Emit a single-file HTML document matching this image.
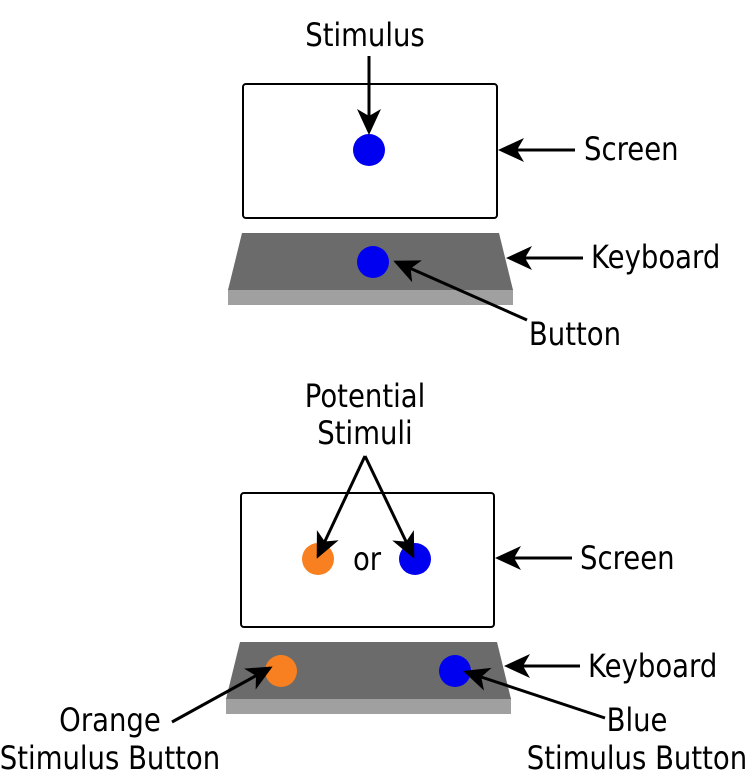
<!DOCTYPE html>
<html><head><style>body{margin:0;background:#fff}svg{display:block}text{font-family:"DejaVu Sans","Liberation Sans",sans-serif;font-size:32px;fill:#000}</style></head>
<body>
<svg width="753" height="779" viewBox="0 0 753 779" xmlns="http://www.w3.org/2000/svg">
<defs>
<marker id="b" markerWidth="26" markerHeight="26" refX="23" refY="13" orient="auto" markerUnits="userSpaceOnUse" viewBox="0 0 26 26"><path d="M0,1 L26,13 L0,25 L7,13 Z" fill="#000"/></marker></defs>
<g stroke="#000" stroke-width="2" fill="none">
<rect x="243" y="84" width="254" height="134" rx="3"/>
<rect x="241" y="493" width="253" height="134" rx="3"/>
</g>
<rect x="228" y="289" width="285" height="16" fill="#a0a0a0"/>
<polygon points="242,233 499,233 513,290 228,290" fill="#6b6b6b"/>
<rect x="226" y="698" width="285" height="16" fill="#a0a0a0"/>
<polygon points="240,642 497,642 511,699 226,699" fill="#6b6b6b"/>
<circle cx="369" cy="150" r="16" fill="#0000f0"/>
<circle cx="373" cy="262" r="16" fill="#0000f0"/>
<circle cx="318" cy="559" r="16" fill="#f88020"/>
<circle cx="415" cy="559" r="16" fill="#0000f0"/>
<circle cx="281" cy="671" r="16" fill="#f88020"/>
<circle cx="455" cy="671" r="16" fill="#0000f0"/>
<g stroke="#000" stroke-width="3" marker-end="url(#b)">
<line x1="369" y1="56" x2="369" y2="132"/>
<line x1="575" y1="150" x2="501" y2="150"/>
<line x1="583" y1="258" x2="509" y2="258"/>
<line x1="527" y1="320" x2="396" y2="262"/>
<line x1="365" y1="456" x2="318" y2="556"/>
<line x1="365" y1="456" x2="413" y2="556"/>
<line x1="572" y1="558" x2="498" y2="558"/>
<line x1="580" y1="666" x2="507" y2="666"/>
<line x1="172" y1="722" x2="270" y2="668"/>
<line x1="605" y1="718" x2="466" y2="672"/>
</g>
<text transform="translate(365,46) scale(0.86,1)" text-anchor="middle">Stimulus</text>
<text transform="translate(584,160) scale(0.86,1)">Screen</text>
<text transform="translate(591,268) scale(0.86,1)">Keyboard</text>
<text transform="translate(575,345) scale(0.86,1)" text-anchor="middle">Button</text>
<text transform="translate(365,407) scale(0.86,1)" text-anchor="middle">Potential</text>
<text transform="translate(365,444) scale(0.86,1)" text-anchor="middle">Stimuli</text>
<text transform="translate(367,570) scale(0.86,1)" text-anchor="middle">or</text>
<text transform="translate(580,569) scale(0.86,1)">Screen</text>
<text transform="translate(588,677) scale(0.86,1)">Keyboard</text>
<text transform="translate(110,731) scale(0.86,1)" text-anchor="middle">Orange</text>
<text transform="translate(110,769) scale(0.86,1)" text-anchor="middle">Stimulus Button</text>
<text transform="translate(637,731) scale(0.86,1)" text-anchor="middle">Blue</text>
<text transform="translate(637,769) scale(0.86,1)" text-anchor="middle">Stimulus Button</text>
</svg>
</body></html>
